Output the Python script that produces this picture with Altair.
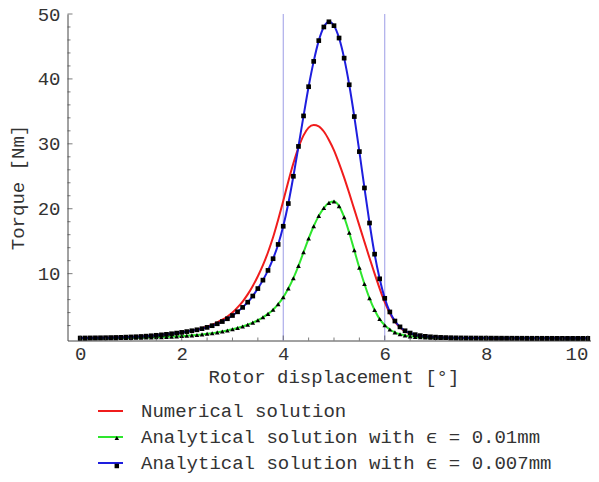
import altair as alt
import pandas as pd

# ---------------- data ----------------
X = [round(i * 0.1, 1) for i in range(101)]

NUMERICAL = [
    0.08, 0.09, 0.10, 0.11, 0.12, 0.13, 0.15, 0.17, 0.19, 0.22,
    0.25, 0.28, 0.32, 0.37, 0.43, 0.50, 0.57, 0.65, 0.74, 0.84,
    0.95, 1.08, 1.22, 1.38, 1.60, 1.85, 2.15, 2.50, 2.90, 3.40,
    4.0, 4.8, 5.7, 6.8, 8.1, 9.6, 11.3, 13.3, 15.6, 18.3,
    21.2, 24.2, 27.0, 29.4, 31.3, 32.5, 32.9, 32.7, 31.9, 30.6,
    29.0, 27.0, 24.8, 22.4, 19.9, 17.4, 14.9, 12.4, 10.0, 7.7,
    5.6, 3.9, 2.6, 1.7, 1.1, 0.75, 0.52, 0.38, 0.28, 0.21,
    0.17, 0.14, 0.12, 0.11, 0.10, 0.09, 0.085, 0.08, 0.075, 0.07,
    0.066, 0.062, 0.058, 0.055, 0.052, 0.05, 0.048, 0.046, 0.044, 0.042,
    0.04, 0.038, 0.037, 0.036, 0.035, 0.034, 0.033, 0.032, 0.031, 0.03,
    0.03,
]

ANALYTIC_001 = [
    0.03, 0.03, 0.04, 0.04, 0.05, 0.05, 0.06, 0.07, 0.08, 0.09,
    0.10, 0.11, 0.13, 0.15, 0.17, 0.19, 0.22, 0.25, 0.29, 0.33,
    0.38, 0.43, 0.49, 0.56, 0.64, 0.73, 0.83, 0.95, 1.08, 1.24,
    1.42, 1.62, 1.86, 2.13, 2.45, 2.82, 3.27, 3.80, 4.45, 5.30,
    6.35, 7.70, 9.30, 11.2, 13.3, 15.4, 17.3, 18.9, 20.1, 20.9,
    21.1, 20.4, 18.7, 16.3, 13.6, 10.9, 8.4, 6.2, 4.4, 3.0,
    2.05, 1.40, 0.95, 0.66, 0.47, 0.34, 0.25, 0.19, 0.15, 0.12,
    0.10, 0.09, 0.08, 0.07, 0.065, 0.06, 0.055, 0.05, 0.048, 0.046,
    0.044, 0.042, 0.04, 0.038, 0.036, 0.035, 0.034, 0.033, 0.032, 0.031,
    0.03, 0.029, 0.028, 0.027, 0.026, 0.025, 0.025, 0.024, 0.024, 0.023,
    0.023,
]

ANALYTIC_0007 = [
    0.08, 0.09, 0.10, 0.11, 0.12, 0.13, 0.15, 0.17, 0.19, 0.22,
    0.25, 0.28, 0.32, 0.37, 0.43, 0.50, 0.57, 0.65, 0.74, 0.84,
    0.95, 1.07, 1.20, 1.35, 1.52, 1.72, 1.98, 2.28, 2.62, 3.05,
    3.55, 4.12, 4.80, 5.60, 6.55, 7.70, 9.00, 10.5, 12.3, 14.5,
    17.3, 20.8, 25.0, 29.6, 34.3, 38.8, 42.7, 45.9, 48.0, 48.8,
    48.2, 46.3, 43.2, 39.1, 34.2, 28.8, 23.2, 17.8, 13.0, 9.2,
    6.2, 4.1, 2.7, 1.8, 1.2, 0.85, 0.6, 0.45, 0.34, 0.27,
    0.22, 0.18, 0.15, 0.13, 0.11, 0.10, 0.09, 0.085, 0.08, 0.075,
    0.07, 0.066, 0.062, 0.058, 0.055, 0.052, 0.05, 0.048, 0.046, 0.044,
    0.042, 0.04, 0.038, 0.037, 0.036, 0.035, 0.034, 0.033, 0.032, 0.031,
    0.03,
]

SERIES = [
    "Numerical solution",
    "Analytical solution with \u03f5 = 0.01mm",
    "Analytical solution with \u03f5 = 0.007mm",
]
COLORS = ["#f01c1c", "#2ee62e", "#1e1ede"]
MARKERS = ["M0,0", "triangle-up", "square"]

X_LABELS = [0, 2, 4, 6, 8, 10]
X_MINOR = [0.5, 1, 1.5, 2.5, 3, 3.5, 4.5, 5, 5.5, 6.5, 7, 7.5, 8.5, 9, 9.5]
Y_LABELS = [10, 20, 30, 40, 50]
Y_MINOR = [2, 4, 6, 8, 12, 14, 16, 18, 22, 24, 26, 28, 32, 34, 36, 38, 42, 44, 46, 48]
V_LINES = [4, 6]

X_MIN, X_MAX = -0.25, 10.063
Y_MIN, Y_MAX = -0.3, 50

FONT = "Liberation Mono"
TEXT = "#333333"
AXIS = "#444444"

# ---------------- tables ----------------
rows = []
for name, vals in zip(SERIES, [NUMERICAL, ANALYTIC_001, ANALYTIC_0007]):
    for xv, yv in zip(X, vals):
        rows.append({"x": xv, "y": yv, "series": name, "marker": name})
df = pd.DataFrame(rows)
df_pts = df[df["series"] != SERIES[0]]

vl_df = pd.DataFrame({"x": V_LINES, "y": [Y_MAX] * len(V_LINES), "y2": [Y_MIN] * len(V_LINES)})
xmaj_df = pd.DataFrame({"x": X_LABELS, "y": [Y_MIN] * len(X_LABELS)})
xmin_df = pd.DataFrame({"x": X_MINOR, "y": [Y_MIN] * len(X_MINOR)})
ymaj_df = pd.DataFrame({"x": [X_MIN] * len(Y_LABELS), "y": Y_LABELS})
ymin_df = pd.DataFrame({"x": [X_MIN] * len(Y_MINOR), "y": Y_MINOR})

# ---------------- scales / axes ----------------
xscale = alt.Scale(domain=[X_MIN, X_MAX], nice=False, zero=False)
yscale = alt.Scale(domain=[Y_MIN, Y_MAX], nice=False, zero=False)

xaxis = alt.Axis(
    title="Rotor displacement [°]", values=X_LABELS, format="d", grid=False,
    ticks=False, tickSize=0, domainColor=AXIS, domainWidth=1,
    labelFont=FONT, labelFontSize=19, labelColor=TEXT, labelPadding=19,
    labelBaseline="alphabetic", labelFlush=False, labelOverlap=False,
    labelAlign=alt.condition("datum.value == 10", alt.value("right"), alt.value("center")),
    titleFont=FONT, titleFontSize=19, titleFontWeight="normal", titleColor=TEXT,
    titleBaseline="alphabetic", titleY=42, titleX=266, titleAlign="center",
)
yaxis = alt.Axis(
    title="Torque [Nm]", values=Y_LABELS, format="d", grid=False,
    ticks=False, tickSize=0, domainColor=AXIS, domainWidth=1,
    labelFont=FONT, labelFontSize=19, labelColor=TEXT, labelPadding=7.5,
    labelFlush=False, labelOverlap=False,
    titleFont=FONT, titleFontSize=19, titleFontWeight="normal", titleColor=TEXT,
    titleAngle=270, titleBaseline="alphabetic", titleAlign="center",
    titleX=-44.5, titleY=173,
)


def X_(field="x"):
    return alt.X(f"{field}:Q", scale=xscale, axis=xaxis)


def Y_(field="y"):
    return alt.Y(f"{field}:Q", scale=yscale, axis=yaxis)


vlines = alt.Chart(vl_df).mark_rule(color="#9c9ce6", strokeWidth=1).encode(
    x=X_(), y=Y_(), y2="y2:Q"
)

lines = alt.Chart(df).mark_line(strokeWidth=2, interpolate="monotone").encode(
    x=X_(), y=Y_(),
    color=alt.Color(
        "series:N",
        scale=alt.Scale(domain=SERIES, range=COLORS),
        legend=alt.Legend(
            title=None, orient="none", legendX=29.5, legendY=383.5,
            direction="vertical", symbolType="stroke", symbolSize=625,
            symbolStrokeWidth=2, labelFont=FONT, labelFontSize=19,
            labelColor=TEXT, labelOffset=17, rowPadding=2, padding=0,
            labelLimit=600,
        ),
    ),
    order="x:Q",
)

points = alt.Chart(df_pts).mark_point(filled=True, color="black", size=22, opacity=1).encode(
    x=X_(), y=Y_(),
    shape=alt.Shape(
        "marker:N",
        scale=alt.Scale(domain=SERIES, range=MARKERS),
        legend=alt.Legend(
            title=None, orient="none", legendX=39.8, legendY=386.5,
            direction="vertical", symbolSize=20, symbolFillColor="black",
            symbolStrokeWidth=0, labelOpacity=0, labelExpr="''", labelFont=FONT,
            labelFontSize=19, rowPadding=8, padding=0,
        ),
    ),
)

xt_major = alt.Chart(xmaj_df).mark_tick(orient="vertical", size=5, thickness=1, color=AXIS, yOffset=-2.5).encode(x=X_(), y=Y_())
xt_minor = alt.Chart(xmin_df).mark_tick(orient="vertical", size=3, thickness=1, color=AXIS, yOffset=-1.5).encode(x=X_(), y=Y_())
yt_major = alt.Chart(ymaj_df).mark_tick(orient="horizontal", size=5, thickness=1, color=AXIS, xOffset=2.5).encode(x=X_(), y=Y_())
yt_minor = alt.Chart(ymin_df).mark_tick(orient="horizontal", size=3, thickness=1, color=AXIS, xOffset=1.5).encode(x=X_(), y=Y_())

chart = (
    alt.layer(vlines, lines, points, xt_major, xt_minor, yt_major, yt_minor)
    .resolve_legend(color="independent", shape="independent")
    .properties(
        width=523.5, height=326.5,
        autosize=alt.AutoSizeParams(type="none"),
        padding={"left": 59.5, "top": 6, "right": 0, "bottom": 134},
        background="white",
    )
    .configure_view(strokeWidth=0)
)

chart.save("out.html", embed_options={"renderer": "svg", "actions": False})
